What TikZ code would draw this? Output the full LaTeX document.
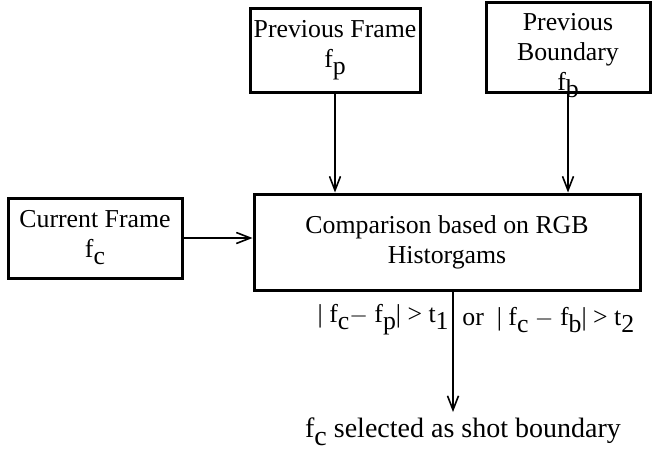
\documentclass[tikz,border=0pt]{standalone}
\usepackage{fontspec}
\setmainfont{Liberation Serif}
\usetikzlibrary{arrows.meta, positioning}
\def\low#1{\raisebox{-0.6ex}{#1}}

\begin{document}
\begin{tikzpicture}[x=0.5pt, y=-0.5pt, font=\fontsize{12.9}{15}\selectfont,
	box/.style={draw, line width=1.5pt, rectangle, inner sep=0pt, align=center},
	arr/.style={-{Straight Barb[length=7pt, width=5.5pt]}, line width=0.8pt}]
		
		\useasboundingbox (0,0) rectangle (653,451);
		
		% Nodes
		\node[box, minimum width=85pt, minimum height=42pt] (pf) at (335,50) {Previous Frame\\ f\low{p}};
		\node[box, minimum width=82pt, minimum height=43pt] (pb) at (568,47) {\raisebox{-3.5pt}[\height][\depth]{\begin{tabular}{@{}c@{}}Previous\\ Boundary\\ f\low{b}\end{tabular}}};
		\node[box, minimum width=87pt, minimum height=40pt] (cf) at (95,238) {Current Frame\\ f\low{c}};
		\node[box, minimum width=193pt, minimum height=48pt] (cmp) at (447,242) {Comparison based on RGB\\ Historgams};
		
		\node[anchor=east, inner sep=0pt] (condl) at (449,320) {| f\low{c}$-$ f\low{p}| > t\low{1}};
		\node[anchor=west, inner sep=0pt] (condr) at (462,320) {or\ \ | f\low{c} $-$ f\low{b}| > t\low{2}};
		
		\node[inner sep=0pt, font=\fontsize{14}{16}\selectfont] (res) at (463,432) {f\low{c} selected as shot boundary};
		\coordinate (tip) at (453,412);
		
		% Arrows
		\draw[arr] (pf.south) -- (pf.south |- cmp.north);
		\draw[arr] (pb.south) -- (pb.south |- cmp.north);
		\draw[arr] (cf.east) -- (cf.east -| cmp.west);
		\draw[arr] (cmp.south -| tip) -- (tip);
		
\end{tikzpicture}
\end{document}
